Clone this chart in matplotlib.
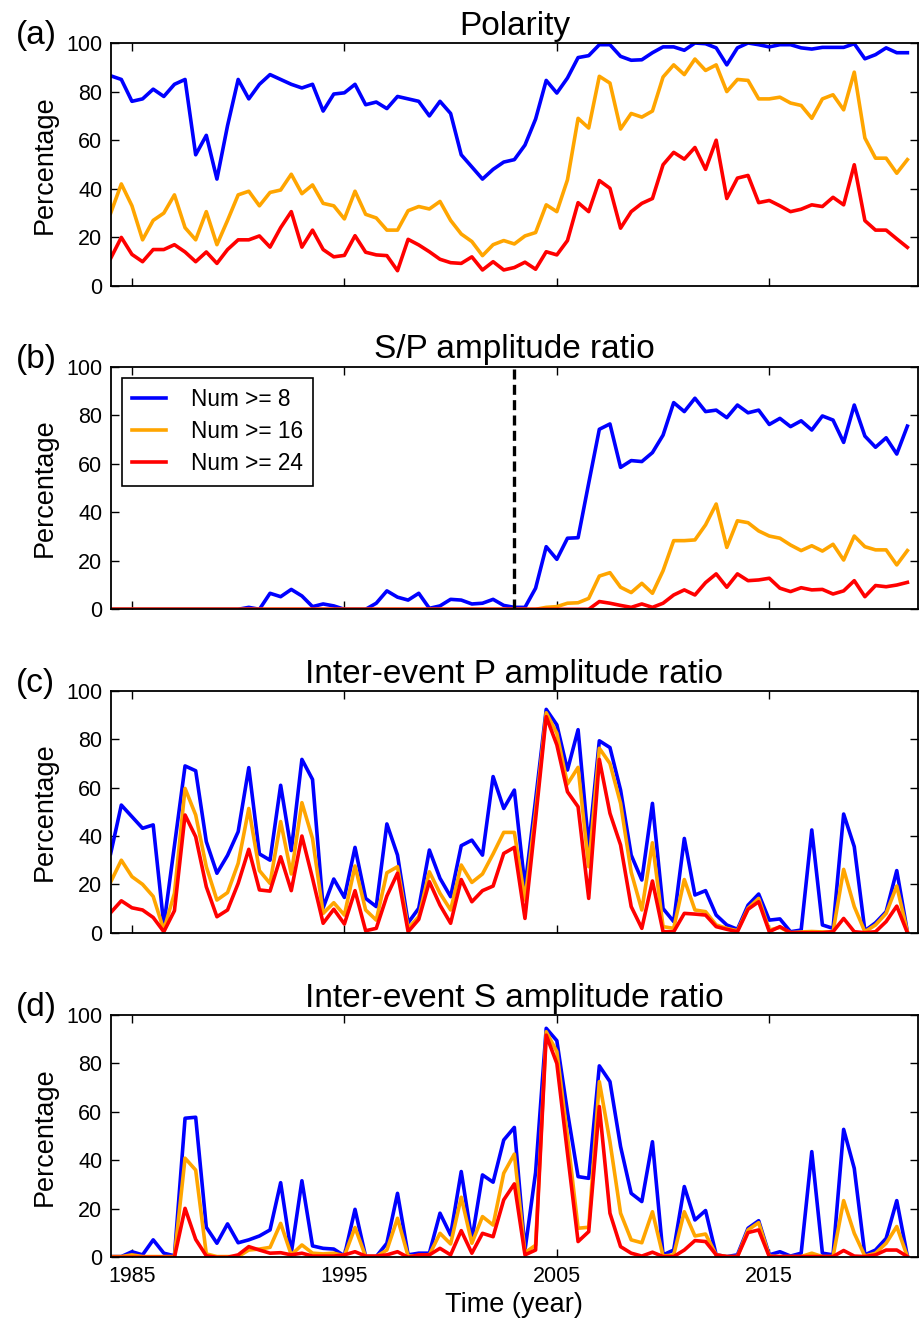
import numpy as np
import matplotlib
matplotlib.use('Agg')
import matplotlib.pyplot as plt

plt.rcParams['font.family'] = ['Liberation Sans', 'DejaVu Sans']

# half-year time grid
years = np.arange(1984.0, 2022.0, 0.5)

# (a) Polarity
pol_8 = [86.5, 85, 76, 77, 81, 78, 83, 85, 54, 62, 44, 66, 85, 77, 83, 87, 85, 83, 81.5, 83,
         72, 79, 79.5, 83, 74.6, 75.7, 73, 78, 77, 76, 70, 76, 71, 54, 49, 44, 48, 51, 52, 58,
         68.7, 84.6, 79.4, 85.6, 94, 94.8, 99.3, 99.3, 94.5, 92.9, 93.1, 96, 98.4, 98.4, 97, 100,
         99.7, 98, 91, 98, 100, 99.3, 98.4, 99.3, 99.3, 98, 97.5, 98.2, 98.2, 98.2, 99.7, 93.5,
         95.2, 98, 96, 96]
pol_16 = [30, 42, 33, 19, 27, 30, 37.5, 24, 19, 30.6, 17, 27, 37.5, 39, 33, 38.5, 39.5, 46, 38,
          41.6, 34, 33, 27.6, 39, 29.5, 28, 23, 23, 31, 32.7, 31.7, 34.8, 27, 21.4, 18.3, 12.5,
          17, 18.7, 17.3, 20.6, 22, 33.4, 30.6, 43.7, 69, 65, 86.3, 83.5, 64.6, 71, 69.5, 72, 86,
          91, 87, 93.4, 88.7, 91, 80, 85, 84.6, 77, 77, 77.7, 75.3, 74.3, 69, 77, 78.7, 72.5, 88,
          60.9, 52.6, 52.6, 46.4, 52]
pol_24 = [11.4, 20, 13, 10, 15, 15, 17, 14, 10, 14, 9.3, 15, 19, 19, 20.6, 16, 24, 30.6, 16, 23,
          15, 12, 12.6, 20.7, 13.9, 12.8, 12.5, 6.3, 19.2, 16.9, 14.1, 11, 9.6, 9.3, 12, 6.6, 10,
          6.6, 7.6, 9.8, 6.9, 14.1, 12.8, 18.7, 34.3, 30.6, 43.4, 40.2, 23.8, 30.6, 34, 36, 49.9,
          55, 52.2, 57, 48, 60, 36, 44.4, 45.5, 34.3, 35.2, 33, 30.6, 31.6, 33.4, 32.7, 36.5,
          33.4, 49.9, 26.9, 23, 23, 19.4, 15.9]

# (b) S/P amplitude ratio
sp_8 = [0, 0, 0, 0, 0, 0, 0, 0, 0, 0, 0, 0, 0, 0.8, 0, 6.6, 5.2, 8.2, 5.5, 1.1, 2.2, 1.4, 0, 0,
        0, 2.5, 7.6, 5, 3.8, 6.6, 0.4, 1.4, 4.1, 3.8, 2.2, 2.5, 4.1, 1.6, 0.8, 0.8, 8.7, 25.8,
        20.6, 29.3, 29.5, 52, 74.2, 76.4, 58.5, 61.3, 60.9, 64.6, 71.8, 85.2, 81.5, 87, 81.5,
        82.1, 79, 84.2, 81, 82.1, 76.2, 78.7, 75.3, 77.7, 73.9, 79.7, 78, 68.8, 84.2, 71.4,
        66.8, 70.7, 64, 75.5]
sp_16 = [0] * 41 + [0.8, 1.1, 2.5, 2.7, 4.5, 13.7, 15.1, 9.1, 6.9, 10.7, 6.6, 15.9, 28.3, 28.3,
                    28.6, 34.8, 43.4, 25.5, 36.5, 35.7, 32.3, 30.2, 29.3, 26.5, 24.2, 26.2, 24,
                    26.8, 20.3, 30.2, 25.8, 24.5, 24.5, 18.3, 24.2]
sp_24 = [0] * 46 + [3.2, 2.5, 1.6, 0.8, 2.2, 0.8, 2.5, 5.9, 8, 5.9, 11, 14.6, 9.1, 14.6, 11.8,
                    12.1, 12.8, 8.7, 7.3, 8.9, 8, 8.2, 6.3, 7.6, 11.8, 5.2, 9.8, 9.3, 10, 11.1]

# (c) Inter-event P amplitude ratio
ip_8 = [32.8, 52.8, 48, 43.2, 44.6, 3.2, 36, 69, 67, 37.7, 24.6, 32, 41.8, 68.3, 32.6, 30, 61,
        34, 71.7, 63.4, 10.3, 22.2, 14.6, 35.3, 14.2, 10.8, 45, 32.1, 4.1, 10.1, 34.2, 22.5,
        14.9, 36, 38.3, 32.1, 64.6, 51.4, 59, 19, 55, 92.4, 86, 67.3, 84, 35.6, 79.4, 76.6, 59,
        32.1, 21.8, 53.5, 10, 4.6, 39, 15.6, 17.4, 7.3, 3.2, 1.4, 11.4, 16, 5.2, 5.7, 0.4, 1.1,
        42.5, 3.2, 1.8, 49.1, 35.6, 0.8, 4.1, 8.7, 25.7, 0.4]
ip_16 = [21, 30, 23.2, 20, 15, 1.1, 16.3, 59.7, 48.7, 27.3, 13.5, 16.6, 28.7, 51.4, 25.7, 20.4,
         46, 24.3, 53.8, 39, 8, 12.4, 7.3, 27.6, 9.4, 5.2, 24.8, 27.3, 1.8, 6.6, 25.2, 16.3, 9.4,
         28, 20.8, 24.3, 32.6, 41.5, 41.5, 13.5, 50, 91, 82.5, 61.5, 68.4, 27.3, 76.3, 70, 53.5,
         25, 9.4, 37.2, 2.5, 1.8, 22, 9.4, 8.7, 3.2, 1.8, 0.8, 10.1, 14.2, 1.1, 2.2, 0, 0.3, 0.5,
         0.3, 0.3, 26.2, 10.8, 0.4, 3.2, 8, 19.3, 0.4]
ip_24 = [8.3, 13.2, 10.3, 9.4, 6.3, 0.4, 9.1, 48.7, 39.7, 19, 6.6, 9.4, 20.4, 34.5, 17.7, 17.2,
         31.4, 17.4, 40, 22.5, 3.9, 9.7, 3.6, 17.4, 0.8, 1.8, 15.2, 24.6, 0.4, 5.5, 21.1, 11.4,
         3.9, 22, 12.8, 17.4, 19.3, 32.8, 35.3, 5.9, 47, 89.4, 77.7, 58.3, 52.1, 14.2, 71.7, 49.4,
         36.3, 10.8, 1.8, 21.4, 0.4, 0.4, 8, 7.7, 7.3, 2.5, 1.4, 0.4, 9.7, 12.8, 0.4, 2.5, 0, 0,
         0, 0, 0.4, 5.9, 0.4, 0, 0.4, 4.6, 11, 0]

# (d) Inter-event S amplitude ratio
is_8 = [0.3, 0.3, 2.3, 1, 7.2, 1.7, 0.6, 57.4, 57.8, 12.4, 5.8, 13.8, 6, 7.2, 8.8, 11.3, 30.8,
        1.7, 31.6, 4.7, 3.7, 3.4, 0.6, 19.8, 0.3, 0.3, 5.8, 26.4, 1, 1.7, 1.7, 18.2, 9.2, 35.4,
        7.2, 34, 31, 48.4, 53.6, 3, 35, 94.5, 89.4, 60, 33.3, 32.6, 79, 72.5, 45.7, 26.4, 23,
        47.7, 1, 3, 29.2, 15.4, 19.3, 1, 0.3, 1, 12, 15.1, 1, 2.3, 0.5, 1.7, 43.6, 1.7, 1, 52.8,
        36.7, 1, 3, 7.8, 23.4, 0.5]
is_16 = [0.3, 0.3, 1, 0.3, 0.3, 0.3, 0.3, 40.9, 36, 1.4, 0.3, 0.3, 0.3, 3, 3.4, 4.1, 14, 1,
         5.1, 1.7, 1.4, 1.7, 0.6, 12.3, 0.3, 0.3, 3, 16.1, 0.5, 0.5, 1, 9.9, 5.5, 24.8, 5.8,
         16.8, 13.3, 34.7, 42.6, 1.9, 5, 93.1, 84.9, 50, 12, 12.4, 72.5, 47.7, 18.2, 7.2, 6,
         18.8, 0.5, 1, 18.8, 8.8, 9.6, 1, 0.3, 0.3, 11.3, 14.3, 0.5, 0.3, 0.3, 0.3, 1.7, 0.3,
         0.3, 23.4, 9.9, 0.5, 1.7, 5.8, 12.7, 0.3]
is_24 = [0, 0, 0, 0, 0, 0, 0, 20.2, 7.4, 0.6, 0, 0, 1, 4.4, 3, 1.7, 1.9, 1, 1.7, 0.5, 0.5, 0.5,
         1, 2.3, 0.5, 0.5, 1, 2.3, 0, 1, 1, 3.7, 1, 11, 1.7, 9.9, 8.5, 23.7, 30.3, 1, 3, 91.7, 80,
         43, 6.5, 10.6, 62.2, 18.2, 4.4, 1.7, 0.5, 2.1, 0.3, 0.3, 3, 6.9, 6.5, 1, 0.3, 0.3, 10.2,
         11.3, 0.3, 0.3, 0.3, 0.3, 0.3, 0.3, 0.3, 2.8, 0.5, 0.3, 1, 3, 3, 0.3]

titles = ['Polarity', 'S/P amplitude ratio', 'Inter-event P amplitude ratio',
          'Inter-event S amplitude ratio']
panel_tags = ['(a)', '(b)', '(c)', '(d)']
labels = ['Num >= 8', 'Num >= 16', 'Num >= 24']
colors = ['blue', 'orange', 'red']
panels = [(pol_8, pol_16, pol_24), (sp_8, sp_16, sp_24),
          (ip_8, ip_16, ip_24), (is_8, is_16, is_24)]
xticks = [1985, 1995, 2005, 2015]
sp_marker_year = 2003

fig = plt.figure(figsize=(9.2, 13.21), dpi=100)
W, H = 920.0, 1321.0
left, right = 110.7, 918.0
tops = [43, 366.7, 691, 1015]
bottoms = [286, 609.3, 932.7, 1257.3]

axes = []
for k in range(4):
    ax = fig.add_axes([left / W, 1 - bottoms[k] / H, (right - left) / W,
                       (bottoms[k] - tops[k]) / H])
    axes.append(ax)
    for vals, c, lab in zip(panels[k], colors, labels):
        ax.plot(years, vals, color=c, lw=2.6, label=lab)
    ax.set_xlim(1984, 2022)
    ax.set_ylim(0, 100)
    ax.set_xticks(xticks)
    ax.set_yticks([0, 20, 40, 60, 80, 100])
    ax.tick_params(direction='in', top=True, right=True, length=6, width=1,
                   labelsize=15.5, pad=6)
    for s in ax.spines.values():
        s.set_linewidth(1.3)
    ax.set_ylabel('Percentage', fontsize=19.5, labelpad=6)
    ax.set_title(titles[k], fontsize=24, pad=6)
    ax.text(-0.118, 1.03, panel_tags[k], transform=ax.transAxes, fontsize=24,
            ha='left', va='center')
    if k < 3:
        ax.set_xticklabels([])

axes[1].axvline(sp_marker_year, color='black', lw=2.4, ls=(0, (3, 1.6)))
leg = axes[1].legend(loc='upper left', bbox_to_anchor=(0.0136, 0.953), borderaxespad=0,
                     fontsize=16.3, handlelength=1.5, handletextpad=1.1, fancybox=False,
                     edgecolor='black', framealpha=1, borderpad=0.45, labelspacing=0.4)
leg.get_frame().set_linewidth(1.2)

axes[3].set_xlabel('Time (year)', fontsize=19.5, labelpad=4)

fig.savefig('out.png', dpi=100)
